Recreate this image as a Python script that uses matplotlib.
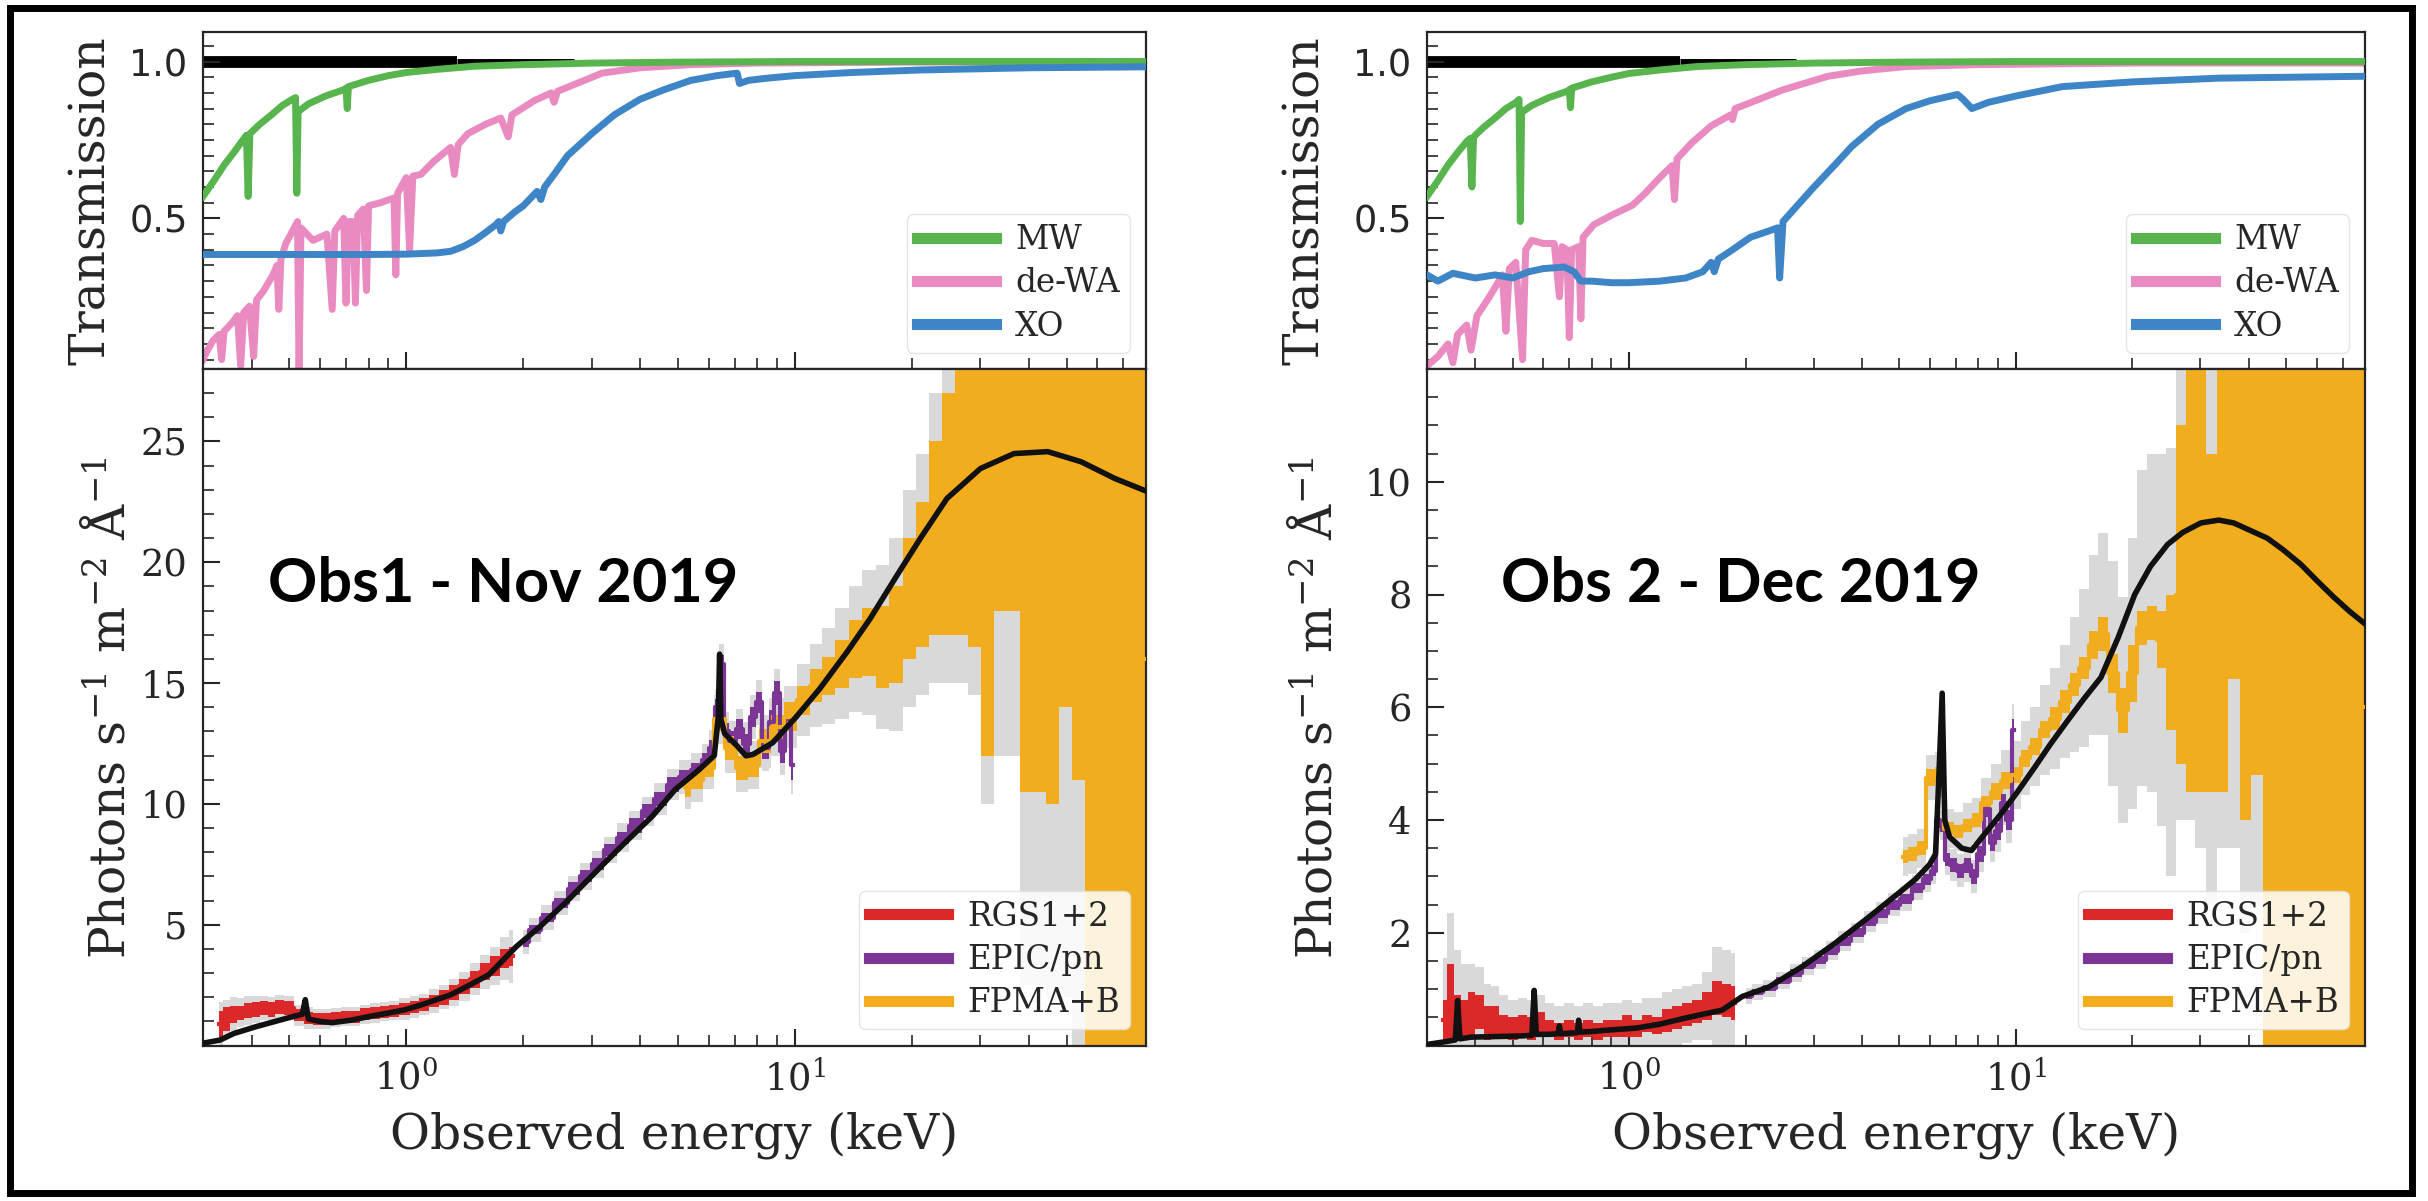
import matplotlib
matplotlib.use("Agg")
import matplotlib.pyplot as plt
from matplotlib.ticker import MultipleLocator, NullFormatter
from matplotlib.patches import Rectangle

# ---------------- DATA ----------------
# Transmission curves
mw_E = [0.30, 0.32, 0.34, 0.36, 0.38, 0.388, 0.392, 0.396, 0.42, 0.45, 0.48, 0.51, 0.519, 0.523, 0.527,
        0.56, 0.62, 0.69, 0.70, 0.705, 0.71, 0.8, 0.9, 1.0, 1.2, 1.5, 2.0, 3.0, 5.0, 10.0, 80.0]
mw1_T = [0.57, 0.62, 0.67, 0.71, 0.75, 0.765, 0.57, 0.77, 0.80, 0.83, 0.86, 0.88, 0.885, 0.58, 0.84,
         0.865, 0.89, 0.91, 0.915, 0.85, 0.92, 0.94, 0.955, 0.965, 0.975, 0.985, 0.99, 0.995, 0.998, 1.0, 1.0]
mw2_T = [0.57, 0.62, 0.67, 0.71, 0.745, 0.755, 0.60, 0.76, 0.79, 0.82, 0.85, 0.87, 0.879, 0.49, 0.838,
         0.86, 0.885, 0.905, 0.91, 0.853, 0.915, 0.935, 0.95, 0.962, 0.973, 0.984, 0.99, 0.995, 0.998, 1.0, 1.0]

wa1_E = [0.300, 0.305, 0.318, 0.33, 0.335, 0.34, 0.358, 0.368, 0.375, 0.382, 0.395, 0.405, 0.412, 0.43,
         0.454, 0.465, 0.47, 0.476, 0.49, 0.51, 0.525, 0.53, 0.536, 0.555, 0.576, 0.60, 0.625, 0.645,
         0.655, 0.69, 0.70, 0.71, 0.73, 0.74, 0.75, 0.776, 0.79, 0.80, 0.858, 0.93, 0.94, 0.95, 1.0,
         1.02, 1.04, 1.09, 1.18, 1.30, 1.33, 1.36, 1.44, 1.6, 1.75, 1.83, 1.87, 2.14, 2.36, 2.40, 2.45,
         3.19, 4.0, 5.4, 8.0, 20.0, 80.0]
wa1_T = [0.05, 0.07, 0.11, 0.13, 0.05, 0.14, 0.17, 0.19, 0.03, 0.20, 0.22, 0.06, 0.24, 0.27,
         0.32, 0.35, 0.21, 0.37, 0.42, 0.46, 0.49, 0.0, 0.47, 0.45, 0.43, 0.44, 0.45, 0.21,
         0.46, 0.50, 0.23, 0.49, 0.49, 0.23, 0.51, 0.53, 0.27, 0.54, 0.55, 0.565, 0.32, 0.58, 0.63,
         0.40, 0.635, 0.64, 0.683, 0.726, 0.64, 0.735, 0.77, 0.80, 0.82, 0.76, 0.83, 0.876, 0.90, 0.87, 0.905,
         0.963, 0.98, 0.99, 0.995, 0.998, 0.998]

wa2_E = [0.30, 0.32, 0.34, 0.35, 0.36, 0.38, 0.39, 0.404, 0.43, 0.45, 0.47, 0.48, 0.49, 0.509, 0.53,
         0.54, 0.56, 0.60, 0.64, 0.66, 0.67, 0.69, 0.70, 0.71, 0.74, 0.75, 0.76, 0.81, 0.90, 1.02, 1.1,
         1.2, 1.29, 1.31, 1.33, 1.45, 1.63, 1.83, 1.85, 1.88, 2.06, 2.5, 3.27, 4.0, 5.2, 8.0, 20.0, 80.0]
wa2_T = [0.03, 0.06, 0.10, 0.04, 0.13, 0.16, 0.08, 0.19, 0.24, 0.28, 0.32, 0.14, 0.34, 0.36, 0.05,
         0.40, 0.43, 0.42, 0.42, 0.25, 0.41, 0.40, 0.12, 0.40, 0.41, 0.18, 0.44, 0.48, 0.51, 0.542, 0.58,
         0.63, 0.668, 0.56, 0.69, 0.74, 0.795, 0.83, 0.815, 0.85, 0.869, 0.91, 0.953, 0.97, 0.984, 0.99, 0.995, 0.995]

xo1_E = [0.30, 0.5, 0.8, 1.0, 1.2, 1.3, 1.4, 1.5, 1.6, 1.7, 1.73, 1.75, 1.78, 1.9, 2.0, 2.17, 2.22, 2.27,
         2.4, 2.6, 3.0, 3.43, 4.0, 4.6, 5.4, 6.3, 7.1, 7.2, 7.6, 8.5, 10.0, 14.0, 21.0, 40.0, 80.0]
xo1_T = [0.385, 0.385, 0.385, 0.386, 0.39, 0.395, 0.41, 0.43, 0.455, 0.48, 0.49, 0.46, 0.49, 0.52, 0.54,
         0.586, 0.56, 0.60, 0.64, 0.70, 0.77, 0.83, 0.88, 0.91, 0.94, 0.955, 0.963, 0.93, 0.94, 0.947,
         0.955, 0.965, 0.973, 0.98, 0.983]

xo2_E = [0.30, 0.32, 0.35, 0.40, 0.45, 0.50, 0.55, 0.6, 0.68, 0.72, 0.75, 0.8, 0.9, 1.0, 1.2, 1.4, 1.55,
         1.63, 1.66, 1.7, 1.85, 2.06, 2.3, 2.42, 2.45, 2.5, 2.98, 3.4, 3.77, 4.4, 5.2, 6.0, 7.07, 7.3, 7.7,
         8.5, 10.0, 13.2, 20.0, 33.6, 80.0]
xo2_T = [0.32, 0.30, 0.325, 0.31, 0.32, 0.31, 0.33, 0.34, 0.345, 0.33, 0.30, 0.30, 0.295, 0.295, 0.30,
         0.31, 0.33, 0.36, 0.33, 0.37, 0.40, 0.44, 0.46, 0.47, 0.31, 0.49, 0.595, 0.67, 0.73, 0.80, 0.85,
         0.875, 0.895, 0.88, 0.85, 0.87, 0.89, 0.92, 0.935, 0.947, 0.953]

# black reference line at unity
unity_E_thick = [0.3, 1.35]
unity_E_mid = [1.35, 2.7]
unity_E_thin = [2.7, 5.0]
unity_T = [1.0, 1.0]

# ---- Spectra ----
rgs_E = [0.33, 0.345, 0.36, 0.375, 0.39, 0.41, 0.43, 0.45, 0.47, 0.50, 0.53, 0.56, 0.59, 0.62, 0.66,
         0.70, 0.74, 0.78, 0.83, 0.88, 0.93, 0.99, 1.05, 1.11, 1.18, 1.25, 1.33, 1.41, 1.50, 1.59, 1.69,
         1.79, 1.88]
rgs1_y = [0.9, 1.1, 1.3, 1.35, 1.45, 1.5, 1.55, 1.5, 1.6, 1.55, 1.25, 1.15, 1.1, 1.1, 1.15, 1.2, 1.2,
          1.3, 1.35, 1.4, 1.45, 1.5, 1.6, 1.7, 1.85, 2.0, 2.2, 2.45, 2.75, 3.05, 3.3, 3.6, 3.7]
rgs1_ec = [0.55, 0.5, 0.35, 0.3, 0.3, 0.3, 0.3, 0.3, 0.3, 0.3, 0.25, 0.25, 0.25, 0.25, 0.25, 0.25, 0.25,
           0.25, 0.25, 0.25, 0.25, 0.25, 0.25, 0.25, 0.25, 0.3, 0.3, 0.3, 0.35, 0.35, 0.4, 0.4, 0.4]
rgs1_eg = [0.9, 0.8, 0.7, 0.6, 0.6, 0.55, 0.5, 0.5, 0.5, 0.5, 0.45, 0.45, 0.4, 0.4, 0.4, 0.4, 0.4, 0.4,
           0.4, 0.4, 0.4, 0.45, 0.45, 0.45, 0.5, 0.5, 0.55, 0.6, 0.65, 0.7, 0.8, 0.9, 1.1]
rgs2_y = [0.45, 0.75, 0.5, 0.45, 0.55, 0.6, 0.4, 0.45, 0.35, 0.3, 0.35, 0.3, 0.4, 0.3, 0.25, 0.3, 0.25,
          0.3, 0.25, 0.3, 0.3, 0.35, 0.3, 0.4, 0.35, 0.45, 0.5, 0.55, 0.6, 0.7, 0.85, 0.8, 0.75]
rgs2_ec = [0.35, 0.7, 0.4, 0.35, 0.4, 0.3, 0.3, 0.25, 0.2, 0.2, 0.2, 0.2, 0.2, 0.15, 0.15, 0.15, 0.15,
           0.15, 0.15, 0.15, 0.15, 0.2, 0.15, 0.15, 0.15, 0.2, 0.2, 0.2, 0.2, 0.25, 0.3, 0.3, 0.3]
rgs2_eg = [1.1, 1.6, 1.2, 1.0, 0.9, 0.8, 0.7, 0.6, 0.55, 0.5, 0.5, 0.5, 0.5, 0.45, 0.45, 0.45, 0.45,
           0.45, 0.45, 0.45, 0.45, 0.45, 0.45, 0.45, 0.5, 0.5, 0.5, 0.5, 0.5, 0.6, 0.9, 0.9, 0.9]

pn_E = [2.0, 2.15, 2.3, 2.5, 2.7, 2.9, 3.1, 3.35, 3.6, 3.9, 4.2, 4.5, 4.85, 5.2, 5.6, 5.9, 6.15, 6.3,
        6.45, 6.65, 6.9, 7.2, 7.5, 7.8, 8.1, 8.4, 8.7, 9.0, 9.3, 9.6, 9.9]
pn1_y = [4.3, 4.8, 5.3, 5.9, 6.5, 7.0, 7.5, 8.1, 8.6, 9.1, 9.7, 10.2, 10.8, 11.1, 11.4, 11.8, 12.3, 14.0,
         15.8, 13.0, 12.6, 13.1, 12.5, 13.6, 14.2, 12.3, 13.4, 14.6, 12.2, 13.5, 11.6]
pn1_ec = [0.2, 0.2, 0.2, 0.2, 0.25, 0.25, 0.25, 0.25, 0.25, 0.3, 0.3, 0.3, 0.3, 0.3, 0.3, 0.3, 0.35, 0.35,
          0.35, 0.35, 0.4, 0.4, 0.4, 0.4, 0.45, 0.45, 0.5, 0.5, 0.5, 0.5, 0.6]
pn1_eg = [0.5, 0.5, 0.5, 0.5, 0.5, 0.55, 0.55, 0.55, 0.6, 0.6, 0.6, 0.65, 0.65, 0.7, 0.7, 0.7, 0.75, 0.75,
          0.8, 0.8, 0.85, 0.85, 0.9, 0.9, 0.95, 0.95, 1.0, 1.0, 1.0, 1.1, 1.2]
pn2_y = [0.88, 0.95, 1.02, 1.15, 1.28, 1.42, 1.52, 1.68, 1.85, 2.0, 2.2, 2.35, 2.5, 2.6, 2.8, 2.95, 3.1,
         4.0, 3.9, 3.3, 3.2, 3.1, 3.2, 3.0, 3.4, 4.2, 3.6, 3.8, 4.3, 4.0, 5.6]
pn2_ec = [0.06, 0.06, 0.06, 0.06, 0.07, 0.07, 0.07, 0.07, 0.08, 0.08, 0.08, 0.08, 0.09, 0.09, 0.09, 0.1,
          0.1, 0.12, 0.12, 0.12, 0.12, 0.12, 0.13, 0.13, 0.14, 0.15, 0.15, 0.15, 0.16, 0.17, 0.2]
pn2_eg = [0.15, 0.15, 0.15, 0.15, 0.16, 0.16, 0.17, 0.17, 0.18, 0.18, 0.19, 0.2, 0.2, 0.21, 0.22, 0.23,
          0.24, 0.25, 0.26, 0.27, 0.28, 0.29, 0.3, 0.3, 0.32, 0.34, 0.35, 0.36, 0.38, 0.4, 0.45]

fpma1_E = [5.2, 5.6, 6.0, 6.4, 6.8, 7.3, 7.8, 8.4, 9.0, 9.7, 10.5, 11.3, 12.2, 13.2, 14.3, 15.5, 16.8,
           18.2, 19.7, 21.3, 23.0, 24.8, 26.8, 29.0, 31.3, 33.8, 36.5, 39.4, 42.6, 46.0, 49.7, 53.7,
           58.0, 62.6, 67.6, 73.0, 80.0]
fpma1_y = [10.7, 11.0, 11.5, 13.5, 12.3, 11.5, 11.6, 12.6, 13.2, 13.6, 14.3, 14.9, 15.3, 15.8, 16.4,
           16.7, 16.5, 17.0, 18.5, 19.5, 21.0, 22.0, 23.0, 22.5, 20.0, 23.0, 24.0, 19.5, 19.5, 19.0,
           22.0, 20.0, 16.0, 15.0, 14.0, 15.0, 16.0]
fpma1_ec = [0.4, 0.4, 0.4, 0.5, 0.5, 0.5, 0.5, 0.5, 0.5, 0.6, 0.6, 0.7, 0.8, 1.0, 1.2, 1.4, 1.7, 2.0,
            2.5, 3.0, 4.0, 5.0, 6.0, 6.0, 8.0, 5.0, 6.0, 9.0, 9.0, 9.0, 8.0, 9.0, 16.0, 15.0, 14.0,
            15.0, 16.0]
fpma1_eg = [0.9, 0.9, 0.9, 1.0, 1.0, 1.0, 1.0, 1.1, 1.2, 1.3, 1.5, 1.7, 2.0, 2.3, 2.6, 3.0, 3.4, 4.0,
            4.5, 5.0, 6.0, 7.0, 8.0, 8.0, 10.0, 11.0, 12.0, 17.0, 17.0, 17.0, 20.0, 20.0, 30.0, 30.0,
            30.0, 30.0, 30.0]

fpma2_E = [5.1, 5.4, 5.7, 6.0, 6.35, 6.7, 7.1, 7.5, 7.9, 8.4, 8.9, 9.4, 10.0, 10.6, 11.2, 11.9, 12.6,
           13.4, 14.2, 15.0, 15.9, 16.8, 17.8, 18.9, 20.0, 21.2, 22.5, 23.8, 25.2, 26.7, 28.3, 30.0,
           32.0, 34.2, 36.6, 39.2, 42.0, 45.0, 48.2, 51.6, 55.3, 59.2, 63.4, 67.9, 72.7, 80.0]
fpma2_y = [3.35, 3.4, 3.5, 4.75, 4.8, 3.85, 3.8, 3.9, 4.0, 4.3, 4.5, 4.7, 4.8, 5.1, 5.3, 5.6, 5.8, 6.1,
           6.4, 6.7, 7.1, 7.3, 6.6, 5.95, 6.6, 7.4, 7.5, 7.2, 6.8, 8.0, 8.5, 8.5, 7.5, 8.5, 9.5, 8.0,
           8.5, 6.0, 6.0, 6.0, 6.0, 6.0, 6.0, 6.0, 6.0, 6.0]
fpma2_ec = [0.12, 0.12, 0.12, 0.15, 0.15, 0.12, 0.12, 0.12, 0.12, 0.12, 0.15, 0.15, 0.15, 0.15, 0.15,
            0.15, 0.2, 0.2, 0.2, 0.2, 0.25, 0.3, 0.35, 0.4, 0.5, 0.3, 0.3, 0.5, 1.2, 3.0, 4.0, 4.0,
            3.0, 4.0, 3.0, 4.0, 3.7, 7.0, 7.0, 7.0, 7.0, 7.0, 7.0, 7.0, 7.0, 7.0]
fpma2_eg = [0.35, 0.35, 0.35, 0.4, 0.4, 0.35, 0.35, 0.4, 0.4, 0.45, 0.5, 0.55, 0.6, 0.65, 0.7, 0.8,
            0.9, 1.0, 1.2, 1.4, 1.6, 1.8, 2.0, 2.0, 2.4, 2.8, 3.0, 3.3, 3.8, 4.0, 4.5, 5.0, 5.0, 5.0,
            6.0, 6.0, 6.0, 9.0, 9.0, 9.0, 9.0, 9.0, 9.0, 9.0, 9.0, 9.0]

model1_E = [0.3, 0.332, 0.36, 0.41, 0.46, 0.495, 0.54, 0.55, 0.56, 0.6, 0.645, 0.72, 0.8, 0.9, 0.99,
            1.1, 1.19, 1.3, 1.43, 1.63, 1.92, 2.2, 2.6, 3.12, 3.6, 4.3, 4.92, 5.65, 6.2, 6.35, 6.4,
            6.45, 6.6, 7.1, 7.48, 7.8, 8.77, 10.07, 11.57, 13.6, 15.6, 18.3, 21.0, 24.6, 30.0, 36.6,
            44.7, 54.5, 66.5, 80.0]
model1_y = [0.1, 0.23, 0.5, 0.78, 1.0, 1.14, 1.3, 1.9, 1.1, 1.0, 0.95, 1.05, 1.2, 1.35, 1.48, 1.7,
            1.89, 2.1, 2.44, 2.93, 4.1, 4.9, 6.0, 7.3, 8.3, 9.5, 10.6, 11.4, 12.0, 13.6, 16.2, 13.5,
            12.9, 12.4, 11.99, 12.05, 12.54, 13.6, 14.76, 16.28, 17.66, 19.46, 20.98, 22.64, 23.88,
            24.5, 24.58, 24.16, 23.47, 22.95]
model2_E = [0.3, 0.335, 0.355, 0.36, 0.365, 0.39, 0.45, 0.52, 0.56, 0.568, 0.575, 0.62, 0.655, 0.66,
            0.665, 0.7, 0.735, 0.74, 0.745, 0.8, 0.9, 1.04, 1.2, 1.4, 1.74, 1.96, 2.3, 2.8, 3.4, 4.17,
            5.07, 5.5, 5.98, 6.2, 6.3, 6.45, 6.55, 6.74, 7.25, 7.68, 8.3, 9.18, 10.1, 11.2, 12.3, 13.6,
            15.0, 16.6, 18.4, 20.3, 22.3, 24.7, 27.0, 30.1, 33.5, 36.6, 40.0, 44.7, 49.0, 54.5, 60.0,
            66.5, 73.0, 80.0]
model2_y = [0.02, 0.07, 0.1, 0.8, 0.12, 0.15, 0.16, 0.17, 0.18, 0.98, 0.2, 0.2, 0.21, 0.35, 0.21, 0.22,
            0.23, 0.45, 0.24, 0.25, 0.28, 0.31, 0.38, 0.49, 0.63, 0.87, 1.04, 1.40, 1.81, 2.28, 2.75,
            2.95, 3.21, 3.4, 4.5, 6.25, 4.0, 3.7, 3.5, 3.46, 3.75, 4.12, 4.5, 4.94, 5.35, 5.76, 6.15,
            6.53, 7.24, 8.0, 8.5, 8.89, 9.1, 9.27, 9.32, 9.27, 9.15, 9.0, 8.8, 8.54, 8.25, 7.95, 7.7,
            7.48]

trans_labels = ["MW", "de-WA", "XO"]
spec_labels = ["RGS1+2", "EPIC/pn", "FPMA+B"]
obs_titles = ["Obs1 - Nov 2019", "Obs 2 - Dec 2019"]

# ---------------- STYLE ----------------
C_MW, C_WA, C_XO = "#58b44c", "#e98bc0", "#3d85c6"
C_RGS, C_PN, C_FPM = "#dc2828", "#7b3595", "#f2ad1f"
C_GRAY = "#d9d9d9"
TXT = "#262626"

plt.rcParams["font.family"] = ["DejaVu Serif"]
plt.rcParams["mathtext.fontset"] = "dejavuserif"

W, H = 2428, 1201
fig = plt.figure(figsize=(W / 100, H / 100), dpi=100)


def rect(x0, y0, x1, y1):
    return [x0 / W, 1 - y1 / H, (x1 - x0) / W, (y1 - y0) / H]


def style(ax, minor_step):
    ax.set_xscale("log")
    ax.set_xlim(0.3, 80)
    for s in ax.spines.values():
        s.set_linewidth(1.6)
        s.set_color(TXT)
    ax.tick_params(which="major", direction="in", length=12, width=1.5, color=TXT,
                   labelsize=26.5, labelcolor=TXT, pad=11)
    ax.tick_params(which="minor", direction="in", length=8, width=1.2, color=TXT)
    ax.yaxis.set_minor_locator(MultipleLocator(minor_step))


panels = [
    dict(x0=203, x1=1146, mw=mw1_T, wa=(wa1_E, wa1_T), xo=(xo1_E, xo1_T),
         rgs=(rgs1_y, rgs1_ec, rgs1_eg), pn=(pn1_y, pn1_ec, pn1_eg),
         fpm=(fpma1_E, fpma1_y, fpma1_ec, fpma1_eg), model=(model1_E, model1_y),
         ylim=(0, 28), yt=[5, 10, 15, 20, 25], ym=1, lab_t=-0.093, lab_b=-0.073, tx=0.069),
    dict(x0=1427, x1=2365, mw=mw2_T, wa=(wa2_E, wa2_T), xo=(xo2_E, xo2_T),
         rgs=(rgs2_y, rgs2_ec, rgs2_eg), pn=(pn2_y, pn2_ec, pn2_eg),
         fpm=(fpma2_E, fpma2_y, fpma2_ec, fpma2_eg), model=(model2_E, model2_y),
         ylim=(0, 12), yt=[2, 4, 6, 8, 10], ym=0.5, lab_t=-0.104, lab_b=-0.091, tx=0.079),
]

for i, p in enumerate(panels):
    axt = fig.add_axes(rect(p["x0"], 31.7, p["x1"], 369))
    axb = fig.add_axes(rect(p["x0"], 369, p["x1"], 1045.6))

    # ---- transmission ----
    style(axt, 0.05)
    axt.set_ylim(0.02, 1.095)
    axt.plot(unity_E_thick, unity_T, color="black", lw=8.5, solid_capstyle="butt", zorder=1)
    axt.plot(unity_E_mid, unity_T, color="black", lw=5, solid_capstyle="butt", zorder=1)
    axt.plot(unity_E_thin, unity_T, color="black", lw=2.5, solid_capstyle="butt", zorder=1)
    l1, = axt.plot(mw_E, p["mw"], color=C_MW, lw=5, label=trans_labels[0], zorder=3)
    l2, = axt.plot(p["wa"][0], p["wa"][1], color=C_WA, lw=5, label=trans_labels[1], zorder=2)
    l3, = axt.plot(p["xo"][0], p["xo"][1], color=C_XO, lw=5, label=trans_labels[2], zorder=4)
    axt.set_yticks([0.5, 1.0])
    axt.set_yticklabels(["0.5", "1.0"], fontfamily="DejaVu Sans")
    axt.tick_params(labelbottom=False)
    axt.set_ylabel("Transmission", fontsize=35, color=TXT)
    axt.yaxis.set_label_coords(p["lab_t"], 0.5)
    leg = axt.legend(handles=[l1, l2, l3], loc="lower right", fontsize=23.5, frameon=True,
                     handlelength=2.4, handletextpad=0.6, labelspacing=0.35, borderpad=0.3,
                     borderaxespad=0.5, fancybox=True, framealpha=0.85, edgecolor="#e0e0e0")
    for ln in leg.get_lines():
        ln.set_linewidth(8)
    for t in leg.get_texts():
        t.set_color(TXT)

    # ---- spectrum ----
    style(axb, p["ym"])
    axb.set_ylim(*p["ylim"])
    axb.set_yticks(p["yt"])
    axb.set_yticklabels([str(v) for v in p["yt"]])
    axb.xaxis.set_minor_formatter(NullFormatter())

    series = [
        (rgs_E, p["rgs"][0], p["rgs"][1], p["rgs"][2], C_RGS, spec_labels[0]),
        (pn_E, p["pn"][0], p["pn"][1], p["pn"][2], C_PN, spec_labels[1]),
        (p["fpm"][0], p["fpm"][1], p["fpm"][2], p["fpm"][3], C_FPM, spec_labels[2]),
    ]
    handles = []
    for E, y, ec, eg, col, lab in series:
        lo_g = [a - b for a, b in zip(y, eg)]
        hi_g = [a + b for a, b in zip(y, eg)]
        axb.fill_between(E, lo_g, hi_g, step="mid", color=C_GRAY, lw=0, zorder=1)
    for E, y, ec, eg, col, lab in series:
        lo_c = [a - b for a, b in zip(y, ec)]
        hi_c = [a + b for a, b in zip(y, ec)]
        axb.fill_between(E, lo_c, hi_c, step="mid", color=col, lw=0, zorder=2)
        h, = axb.plot(E, y, drawstyle="steps-mid", color=col, lw=3, label=lab, zorder=3)
        handles.append(h)
    axb.plot(p["model"][0], p["model"][1], color="#111111", lw=4, zorder=5)

    axb.set_xlabel("Observed energy (keV)", fontsize=35, color=TXT, labelpad=9)
    axb.set_ylabel(r"Photons s$^{-1}$ m$^{-2}$ Å$^{-1}$", fontsize=35, color=TXT)
    axb.yaxis.set_label_coords(p["lab_b"], 0.5)
    leg2 = axb.legend(handles=handles, loc="lower right", fontsize=23.5, frameon=True,
                      handlelength=2.4, handletextpad=0.6, labelspacing=0.35, borderpad=0.3,
                      borderaxespad=0.5, fancybox=True, framealpha=0.85, edgecolor="#e0e0e0")
    leg2.set_zorder(10)
    for ln in leg2.get_lines():
        ln.set_linewidth(8)
    for t in leg2.get_texts():
        t.set_color(TXT)

    axb.text(p["tx"], 0.655, obs_titles[i], transform=axb.transAxes, fontsize=44,
             fontfamily="Lato", fontweight="bold", color="black", ha="left", va="baseline", zorder=11)

# outer black frame
fig.patches.append(Rectangle((10 / W, 8 / H), (2412 - 10) / W, (1193 - 8) / H, transform=fig.transFigure,
                             fill=False, edgecolor="black", lw=5))

fig.savefig("out.png", dpi=100)
